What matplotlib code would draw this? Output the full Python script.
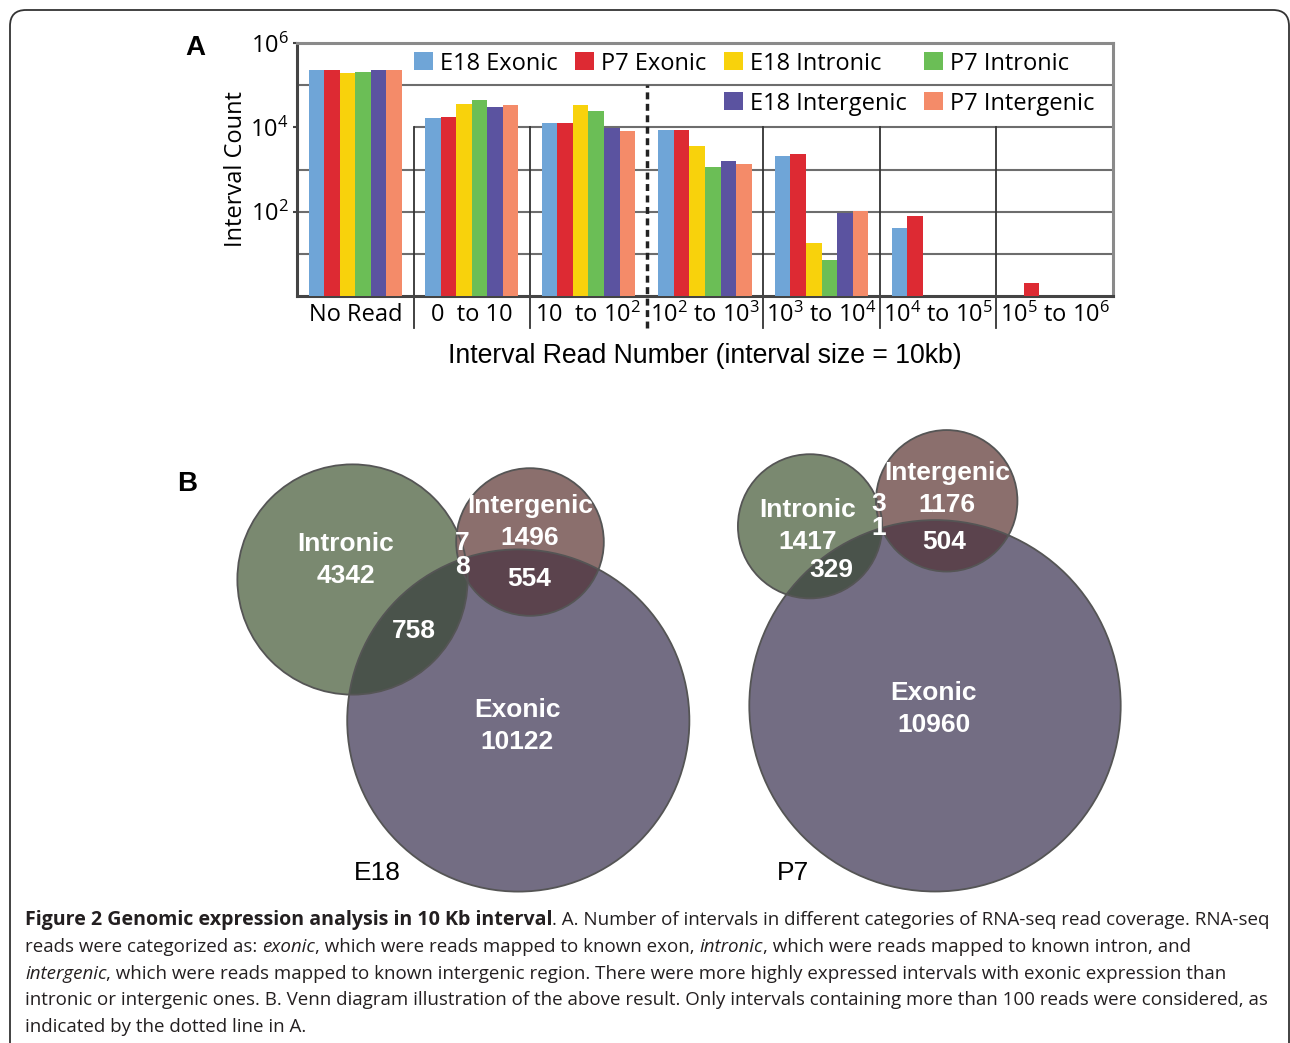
import numpy as np
import matplotlib
matplotlib.use("Agg")
import matplotlib.pyplot as plt
from matplotlib.patches import Circle, FancyBboxPatch, Patch


# ---- data -------------------------------------------------------------

read_bins = [
    "No Read",
    "0  to 10",
    "10  to 10$^2$",
    "10$^2$ to 10$^3$",
    "10$^3$ to 10$^4$",
    "10$^4$ to 10$^5$",
    "10$^5$ to 10$^6$",
]

nan = np.nan
e18_exonic = [2.3e5, 1.65e4, 1.25e4, 8.7e3, 2.1e3, 41, nan]
p7_exonic = [2.3e5, 1.8e4, 1.3e4, 8.7e3, 2.3e3, 78, 2]
e18_intronic = [1.9e5, 3.5e4, 3.3e4, 3.6e3, 18, nan, nan]
p7_intronic = [2.0e5, 4.4e4, 2.5e4, 1.15e3, 7, nan, nan]
e18_intergenic = [2.3e5, 3.0e4, 9.8e3, 1.6e3, 94, nan, nan]
p7_intergenic = [2.3e5, 3.3e4, 8.0e3, 1.35e3, 103, nan, nan]

series_names = [
    "E18 Exonic", "P7 Exonic", "E18 Intronic",
    "P7 Intronic", "E18 Intergenic", "P7 Intergenic",
]
series_values = [
    e18_exonic, p7_exonic, e18_intronic,
    p7_intronic, e18_intergenic, p7_intergenic,
]
series_colors = [
    "#6fa5d7", "#dd2a33", "#f8d20c",
    "#6bbe56", "#5b53a0", "#f48b69",
]

# Venn counts: intronic only, intergenic only, exonic only,
# intronic & exonic, intergenic & exonic, intronic & intergenic
e18_venn = [4342, 1496, 10122, 758, 554, 78]
p7_venn = [1417, 1176, 10960, 329, 504, 31]

caption_lines = [
    [("Figure 2 Genomic expression analysis in 10 Kb interval", "bold"),
     (". A. Number of intervals in different categories of RNA-seq read "
      "coverage. RNA-seq", "normal")],
    [("reads were categorized as: ", "normal"), ("exonic", "italic"),
     (", which were reads mapped to known exon, ", "normal"),
     ("intronic", "italic"),
     (", which were reads mapped to known intron, and", "normal")],
    [("intergenic", "italic"),
     (", which were reads mapped to known intergenic region. There were "
      "more highly expressed intervals with exonic expression than",
      "normal")],
    [("intronic or intergenic ones. B. Venn diagram illustration of the "
      "above result. Only intervals containing more than 100 reads were "
      "considered, as", "normal")],
    [("indicated by the dotted line in A.", "normal")],
]

# ---- style ------------------------------------------------------------

plt.rcParams["font.family"] = ["Open Sans", "DejaVu Sans"]
plt.rcParams["mathtext.fontset"] = "custom"
plt.rcParams["mathtext.rm"] = "Open Sans"
plt.rcParams["mathtext.it"] = "Open Sans:italic"
plt.rcParams["mathtext.bf"] = "Open Sans:bold"

W, H = 1290, 1043
fig = plt.figure(figsize=(W / 100, H / 100), dpi=100)

# full-figure canvas in pixel coordinates
canvas = fig.add_axes([0, 0, 1, 1])
canvas.set_xlim(0, W)
canvas.set_ylim(H, 0)
canvas.axis("off")

canvas.add_patch(
    FancyBboxPatch(
        (10, 10), 1279, 1060,
        boxstyle="round,pad=0,rounding_size=16",
        fc="none", ec="#333333", lw=1.3,
    )
)

canvas.text(195, 48, "A", fontsize=20, fontweight="bold",
            family="Liberation Sans", ha="center", va="center")
canvas.text(187, 484, "B", fontsize=20, fontweight="bold",
            family="Liberation Sans", ha="center", va="center")

# ---- panel A: bars ----------------------------------------------------

ax = fig.add_axes([297 / W, 1 - 296 / H, 816 / W, 253 / H])
ax.set_yscale("log")
ax.set_ylim(1, 1e6)
ax.set_xlim(-0.5, len(read_bins) - 0.5)

x = np.arange(len(read_bins))
bar_width = 0.8 / len(series_names)
for i, (name, values, color) in enumerate(
    zip(series_names, series_values, series_colors)
):
    offset = (i - (len(series_names) - 1) / 2) * bar_width
    ax.bar(x + offset, values, width=bar_width, color=color,
           label=name, zorder=3)

grid_color = "#6d6d6d"
for level in [1e1, 1e2, 1e3, 1e5]:
    ax.axhline(level, color=grid_color, lw=1.5, zorder=1)
ax.hlines(1e4, 0.5, len(read_bins) - 0.5, color=grid_color, lw=1.5,
          zorder=1)

xt = ax.get_xaxis_transform()
for boundary in x[:-1] + 0.5:
    if boundary == 2.5:
        ax.plot([boundary, boundary], [-0.126, 5 / 6], transform=xt,
                color="#222222", lw=2.5, ls=(0, (2, 1.3)),
                clip_on=False, zorder=4)
    else:
        ax.plot([boundary, boundary], [-0.126, 4 / 6], transform=xt,
                color="#333333", lw=1.3, clip_on=False, zorder=2)

for side in ["left", "bottom"]:
    ax.spines[side].set_color("#444444")
    ax.spines[side].set_linewidth(2.2)
for side in ["top", "right"]:
    ax.spines[side].set_color("#8a8a8a")
    ax.spines[side].set_linewidth(2.2)

ax.set_yticks([1e2, 1e4, 1e6])
ax.set_yticklabels(["10$^2$", "10$^4$", "10$^6$"])
ax.yaxis.set_minor_locator(matplotlib.ticker.NullLocator())
ax.tick_params(axis="y", length=3, width=1.5, labelsize=17, pad=3,
               color="#444444")
ax.set_xticks(x)
ax.set_xticklabels(read_bins)
ax.tick_params(axis="x", length=0, labelsize=17, pad=5)

ax.set_ylabel("Interval Count", fontsize=17, labelpad=2)
ax.set_xlabel("Interval Read Number (interval size = 10kb)",
              family="Liberation Sans", fontsize=19.2, labelpad=11)

handles, labels = ax.get_legend_handles_labels()
blank = Patch(fc="none", ec="none")
order = [handles[0], blank, handles[1], blank,
         handles[2], handles[4], handles[3], handles[5]]
order_labels = [labels[0], "", labels[1], "",
                labels[2], labels[4], labels[3], labels[5]]
ax.legend(order, order_labels, ncol=4, frameon=False,
          loc="upper left", bbox_to_anchor=((409 - 297) / 816, 0.985),
          fontsize=17, handlelength=0.8, handleheight=0.8,
          handletextpad=0.3, columnspacing=0.75, labelspacing=0.68,
          borderaxespad=0, borderpad=0.2)

# ---- panel B: venn diagrams ------------------------------------------

exonic_color = "#736d83"
intronic_color = "#7a8970"
intergenic_color = "#8b6f6d"
intronic_exonic_color = "#4a534b"
intergenic_exonic_color = "#5b434d"
edge_color = "#555555"


def draw_venn(counts, centers, scale, label_pos, name, name_pos):
    (intr, inter, exo, intr_exo, inter_exo, intr_inter) = counts
    r_intr = scale * np.sqrt(intr + intr_exo + intr_inter)
    r_inter = scale * np.sqrt(inter + inter_exo + intr_inter)
    r_exo = scale * np.sqrt(exo + intr_exo + inter_exo)

    c_exo = Circle(centers["exonic"], r_exo, fc=exonic_color, ec="none")
    canvas.add_patch(c_exo)
    canvas.add_patch(Circle(centers["intronic"], r_intr,
                            fc=intronic_color, ec="none"))
    canvas.add_patch(Circle(centers["intergenic"], r_inter,
                            fc=intergenic_color, ec="none"))
    overlap = Circle(centers["intronic"], r_intr,
                     fc=intronic_exonic_color, ec="none")
    canvas.add_patch(overlap)
    overlap.set_clip_path(c_exo)
    overlap = Circle(centers["intergenic"], r_inter,
                     fc=intergenic_exonic_color, ec="none")
    canvas.add_patch(overlap)
    overlap.set_clip_path(c_exo)
    for key, r in [("exonic", r_exo), ("intronic", r_intr),
                   ("intergenic", r_inter)]:
        canvas.add_patch(Circle(centers[key], r, fc="none",
                                ec=edge_color, lw=1.3))

    texts = {
        "intronic": f"Intronic\n{intr}",
        "intergenic": f"Intergenic\n{inter}",
        "exonic": f"Exonic\n{exo}",
        "intronic_exonic": f"{intr_exo}",
        "intergenic_exonic": f"{inter_exo}",
    }
    for key, s in texts.items():
        canvas.text(*label_pos[key], s, ha="center", va="center",
                    color="white", fontsize=19, fontweight="bold",
                    family="Liberation Sans", linespacing=1.42)
    # the small intronic/intergenic count is written one digit per line
    canvas.text(*label_pos["intronic_intergenic"],
                "\n".join(str(intr_inter)), ha="center", va="center",
                color="white", fontsize=19, fontweight="bold",
                family="Liberation Sans", linespacing=1.05)
    canvas.text(*name_pos, name, ha="center", va="center", fontsize=19,
                family="Liberation Sans", color="black")


draw_venn(
    e18_venn,
    {"intronic": (352.5, 579.5), "intergenic": (530, 542),
     "exonic": (518.3, 720.5)},
    1.6,
    {"intronic": (346, 560), "intergenic": (530, 522),
     "exonic": (517, 726), "intronic_exonic": (414, 631),
     "intergenic_exonic": (529, 579), "intronic_intergenic": (462, 555)},
    "E18", (377, 873),
)
draw_venn(
    p7_venn,
    {"intronic": (810, 526.3), "intergenic": (946.7, 500.8),
     "exonic": (935, 705.8)},
    1.71,
    {"intronic": (808, 526), "intergenic": (947, 489),
     "exonic": (934, 709), "intronic_exonic": (831, 570),
     "intergenic_exonic": (944, 542), "intronic_intergenic": (879, 516)},
    "P7", (793, 873),
)

# ---- caption ----------------------------------------------------------

# baselines of the caption lines
caption_y = [925, 952, 979, 1005, 1032]
for line, y in zip(caption_lines, caption_y):
    prev = None
    for s, style in line:
        kw = dict(fontsize=13.5, color="#231f20", va="baseline",
                  ha="left")
        if style == "bold":
            kw["fontweight"] = "bold"
            kw["fontsize"] = 14.1
        elif style == "italic":
            kw["fontstyle"] = "italic"
        if prev is None:
            prev = canvas.text(25, y, s, **kw)
        else:
            prev = canvas.annotate(s, xy=(1, y), xycoords=(prev, "data"),
                                   **kw)

fig.savefig("out.png", dpi=100)
